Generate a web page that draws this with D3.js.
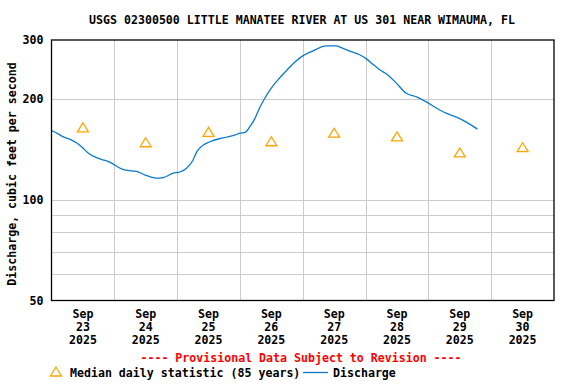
<!DOCTYPE html>
<html>
<head>
<meta charset="utf-8">
<script src="https://cdn.jsdelivr.net/npm/d3@7"></script>
<style>
html,body{margin:0;padding:0;background:#fff;}
svg{display:block;}
text{font-family:"DejaVu Sans Mono","Liberation Mono",monospace;font-weight:bold;font-size:11.6px;fill:#000;}
</style>
</head>
<body>
<svg id="chart" width="576" height="384"></svg>
<script>
const title = "USGS 02300500 LITTLE MANATEE RIVER AT US 301 NEAR WIMAUMA, FL";
const yLabel = "Discharge, cubic feet per second";
const yTicks = [50, 100, 200, 300];
const yGrid = [60, 70, 80, 90, 100, 200];
const dayLabels = ["2025-09-23","2025-09-24","2025-09-25","2025-09-26","2025-09-27","2025-09-28","2025-09-29","2025-09-30"];
const medianDays = ["2025-09-23","2025-09-24","2025-09-25","2025-09-26","2025-09-27","2025-09-28","2025-09-29","2025-09-30"];
const medianValues = [164, 148, 159, 149, 158, 154, 138, 143];
const dischargeTimes = [
 "2025-09-23 00:00","2025-09-23 02:45","2025-09-23 04:30","2025-09-23 07:30","2025-09-23 09:30","2025-09-23 11:30",
 "2025-09-23 14:00","2025-09-23 16:45","2025-09-23 19:00","2025-09-23 21:45","2025-09-23 23:30","2025-09-24 01:30",
 "2025-09-24 04:15","2025-09-24 08:30","2025-09-24 11:45","2025-09-24 13:45","2025-09-24 16:00","2025-09-24 18:45",
 "2025-09-24 22:30","2025-09-25 01:00","2025-09-25 03:30","2025-09-25 06:00","2025-09-25 07:30","2025-09-25 08:45",
 "2025-09-25 12:30","2025-09-25 17:30","2025-09-25 22:00","2025-09-26 00:00","2025-09-26 02:00","2025-09-26 03:45",
 "2025-09-26 05:45","2025-09-26 07:30","2025-09-26 09:30","2025-09-26 11:30","2025-09-26 14:30","2025-09-26 18:00",
 "2025-09-26 21:00","2025-09-27 00:00","2025-09-27 03:45","2025-09-27 09:00","2025-09-27 13:15","2025-09-27 14:00",
 "2025-09-27 18:00","2025-09-27 21:45","2025-09-28 00:30","2025-09-28 02:45","2025-09-28 05:15","2025-09-28 08:30",
 "2025-09-28 11:45","2025-09-28 15:30","2025-09-28 19:30","2025-09-28 23:15","2025-09-29 03:00","2025-09-29 07:00",
 "2025-09-29 10:45","2025-09-29 14:30","2025-09-29 18:45"
];
const dischargeValues = [
 161,157,154,151,148,144,
 138,134,132,130,128,125,
 122.5,121.5,118.5,117,116,116.5,
 120,121,124,131,139,143,
 149,153,156,158,159,165,
 175,188,201,213,228,244,
 258,269,278,288,288,286,
 278,271,263,254,245,236,
 223,208,203,196,188,181,
 176.5,170.5,162.5
];

const parseDay = d3.timeParse("%Y-%m-%d");
const parseTime = d3.timeParse("%Y-%m-%d %H:%M");
const svg = d3.select("#chart");
const L = 51.5, R = 554, T = 40, B = 300.5;

const x = d3.scaleTime()
  .domain([parseDay("2025-09-23"), parseDay("2025-10-01")])
  .range([L, R]);
const y = d3.scaleLog().domain([50, 300]).range([B, T]);

// grid
const gridDays = d3.timeDay.range(parseDay("2025-09-24"), parseDay("2025-10-01"));
svg.append("g").selectAll("line").data(gridDays).join("line")
  .attr("x1", d => Math.round(x(d)) + 0.5).attr("x2", d => Math.round(x(d)) + 0.5)
  .attr("y1", T).attr("y2", B).attr("stroke", "#cccccc").attr("stroke-width", 1);
svg.append("g").selectAll("line").data(yGrid).join("line")
  .attr("x1", L).attr("x2", R)
  .attr("y1", d => Math.round(y(d)) + 0.5).attr("y2", d => Math.round(y(d)) + 0.5)
  .attr("stroke", "#cccccc").attr("stroke-width", 1);

// discharge line
const disc = dischargeTimes.map((t, i) => ({t: parseTime(t), v: dischargeValues[i]}));
svg.append("path").datum(disc)
  .attr("fill", "none").attr("stroke", "#0a7ac9").attr("stroke-width", 1.3)
  .attr("d", d3.line().curve(d3.curveMonotoneX).x(d => x(d.t)).y(d => y(d.v)));

// median triangles
const med = medianDays.map((d, i) => ({t: d3.timeHour.offset(parseDay(d), 12), v: medianValues[i]}));
const tri = "M0,-5L5.5,4L-5.5,4Z";
svg.append("g").selectAll("path").data(med).join("path")
  .attr("transform", d => `translate(${x(d.t)},${y(d.v)})`)
  .attr("d", tri).attr("fill", "none").attr("stroke", "#ffa500").attr("stroke-width", 1.3);

// frame
svg.append("rect").attr("x", L).attr("y", T).attr("width", R - L).attr("height", B - T)
  .attr("fill", "none").attr("stroke", "#000").attr("stroke-width", 1.3);

// y axis ticks
const yAxis = d3.axisLeft(y).tickValues(yTicks).tickFormat(d3.format("d")).tickSize(0).tickPadding(8);
const ya = svg.append("g").attr("transform", `translate(${L},0)`).call(yAxis);
ya.select(".domain").remove();
ya.selectAll("text").attr("font-family", null).attr("font-size", null).attr("fill", "#000");

// x axis labels (3 lines)
const fmtMon = d3.timeFormat("%b"), fmtDay = d3.timeFormat("%d"), fmtYr = d3.timeFormat("%Y");
const xl = svg.append("g").selectAll("text").data(dayLabels.map(parseDay)).join("text")
  .attr("text-anchor", "middle")
  .attr("transform", d => `translate(${x(d3.timeHour.offset(d, 12))},0)`);
xl.append("tspan").attr("x", 0).attr("y", 318).text(d => fmtMon(d));
xl.append("tspan").attr("x", 0).attr("y", 331).text(d => fmtDay(d));
xl.append("tspan").attr("x", 0).attr("y", 344).text(d => fmtYr(d));

// title
svg.append("text").attr("x", 302).attr("y", 24).attr("text-anchor", "middle").text(title);
// y label
svg.append("text").attr("transform", "translate(16,174) rotate(-90)").attr("text-anchor", "middle").text(yLabel);
// provisional
svg.append("text").attr("x", 301).attr("y", 362).attr("text-anchor", "middle").style("fill", "#ff0000")
  .text("---- Provisional Data Subject to Revision ----");
// legend
svg.append("path").attr("transform", "translate(56,372)").attr("d", tri)
  .attr("fill", "none").attr("stroke", "#ffa500").attr("stroke-width", 1.3);
svg.append("text").attr("x", 70).attr("y", 377).text("Median daily statistic (85 years)");
svg.append("line").attr("x1", 303).attr("x2", 328).attr("y1", 372.5).attr("y2", 372.5)
  .attr("stroke", "#0a7ac9").attr("stroke-width", 1.3);
svg.append("text").attr("x", 333).attr("y", 377).text("Discharge");
</script>
</body>
</html>
